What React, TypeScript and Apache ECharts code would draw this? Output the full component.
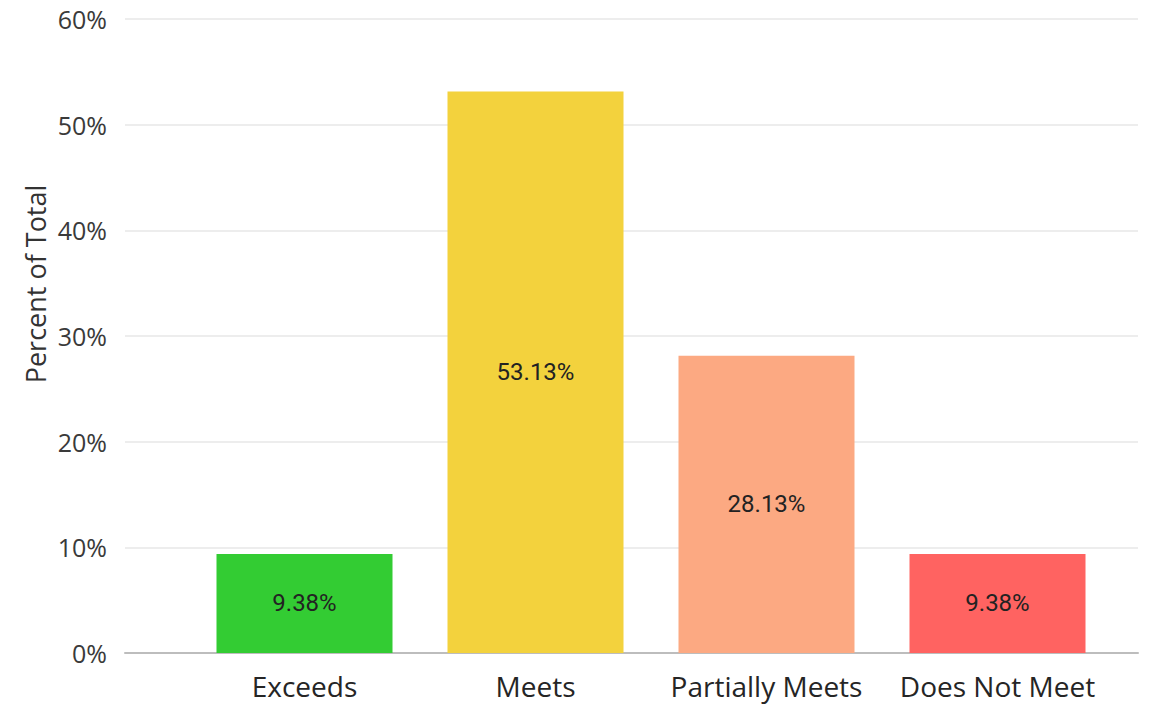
import React, { useEffect, useRef } from "react";
import * as echarts from "echarts";

const categories = ["Exceeds", "Meets", "Partially Meets", "Does Not Meet"];
const values = [9.38, 53.13, 28.13, 9.38];
const barColors = ["#33CC33", "#F3D23D", "#FCA982", "#FF6361"];
const yTicks = [0, 10, 20, 30, 40, 50, 60];
const yAxisTitle = "Percent of Total";

export default function App() {
  const ref = useRef<HTMLDivElement>(null);
  useEffect(() => {
    const chart = echarts.init(ref.current!, null, { renderer: "svg" });
    const font = "'Open Sans', 'Noto Sans', sans-serif";
    chart.setOption({
      animation: false,
      grid: [
        { left: 125, right: 12, top: 19, bottom: 52 },
        { left: 189, right: 37, top: 19, bottom: 52 },
      ],
      graphic: [
        {
          type: "text",
          x: 35,
          y: 284,
          rotation: Math.PI / 2,
          style: {
            text: yAxisTitle,
            fill: "#333",
            fontSize: 27,
            fontFamily: font,
            align: "center",
            verticalAlign: "middle",
          },
        },
      ],
      xAxis: [
        {
          type: "category",
          gridIndex: 0,
          data: [""],
          axisLine: { show: true, lineStyle: { color: "#BDBDBD", width: 2 } },
          axisTick: { show: false },
          axisLabel: { show: false },
        },
        {
          type: "category",
          gridIndex: 1,
          data: categories,
          axisLine: { show: false },
          axisTick: { show: false },
          axisLabel: {
            interval: 0,
            color: "#252525",
            fontSize: 28,
            fontFamily: font,
            margin: 19,
          },
        },
      ],
      yAxis: [
        {
          type: "value",
          gridIndex: 0,
          min: yTicks[0],
          max: yTicks[yTicks.length - 1],
          interval: 10,
          axisLine: { show: false },
          axisTick: { show: false },
          axisLabel: {
            formatter: "{value}%",
            color: "#3a3a3a",
            fontSize: 25,
            fontFamily: font,
            margin: 18,
          },
          splitLine: { lineStyle: { color: "#EDEDED", width: 2 } },
        },
        {
          type: "value",
          gridIndex: 1,
          min: yTicks[0],
          max: yTicks[yTicks.length - 1],
          interval: 10,
          show: false,
          splitLine: { show: false },
        },
      ],
      series: [
        {
          type: "bar",
          xAxisIndex: 1,
          yAxisIndex: 1,
          barWidth: 176,
          data: values.map((v, i) => ({ value: v, itemStyle: { color: barColors[i] } })),
          label: {
            show: true,
            position: "inside",
            formatter: (p: any) => p.value.toFixed(2) + "%",
            color: "#222",
            fontSize: 24,
            fontFamily: "Roboto, sans-serif",
          },
        },
      ],
    });
    return () => chart.dispose();
  }, []);
  return <div ref={ref} style={{ width: 1150, height: 705, position: "absolute", left: 0, top: 0 }} />;
}
